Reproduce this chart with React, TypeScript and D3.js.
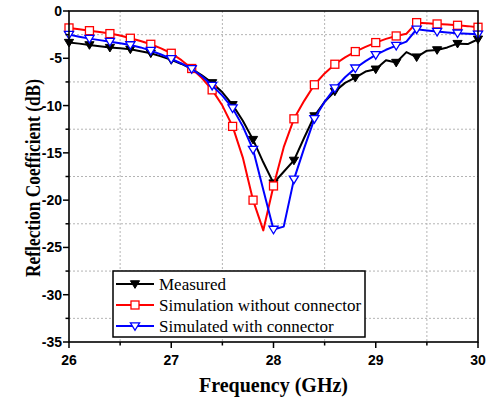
import React from "react";
import * as d3 from "d3";

// frequency samples (GHz)
const freqs = [
  26.0, 26.1, 26.2, 26.3, 26.4, 26.5, 26.6, 26.7, 26.8, 26.9,
  27.0, 27.1, 27.2, 27.3, 27.4, 27.5, 27.6, 27.7, 27.8, 27.9,
  28.0, 28.1, 28.2, 28.3, 28.4, 28.5, 28.6, 28.7, 28.8, 28.9,
  29.0, 29.1, 29.2, 29.3, 29.4, 29.5, 29.6, 29.7, 29.8, 29.9,
  30.0,
];

const measured = [
  -3.34, -3.45, -3.59, -3.72, -3.87, -3.95, -4.05, -4.25, -4.47, -4.8,
  -5.17, -5.6, -6.12, -6.8, -7.6, -8.6, -9.92, -11.6, -13.6, -16.0,
  -18.2, -17.0, -15.8, -13.4, -11.1, -9.6, -8.5, -7.6, -7.05, -6.4,
  -6.16, -5.2, -5.45, -4.35, -4.88, -4.2, -4.12, -3.85, -3.45, -3.5,
  -2.99,
];

const simNoConnector = [
  -1.79, -1.93, -2.08, -2.23, -2.39, -2.6, -2.88, -3.18, -3.52, -3.95,
  -4.47, -5.2, -6.08, -7.1, -8.34, -10.0, -12.2, -15.5, -20.0, -23.2,
  -18.5, -14.4, -11.4, -9.5, -7.8, -6.6, -5.63, -4.9, -4.29, -3.8,
  -3.34, -2.95, -2.64, -2.4, -1.23, -1.3, -1.37, -1.44, -1.51, -1.6,
  -1.72,
];

const simWithConnector = [
  -2.5, -2.72, -2.92, -3.08, -3.24, -3.4, -3.59, -3.85, -4.19, -4.6,
  -5.06, -5.55, -6.12, -6.9, -7.88, -8.95, -10.27, -12.2, -14.65, -18.9,
  -23.1, -22.8, -17.8, -14.5, -11.4, -9.6, -8.16, -7.0, -6.05, -5.3,
  -4.64, -4.1, -3.66, -3.24, -1.93, -2.05, -2.18, -2.27, -2.35, -2.4,
  -2.46,
];

const xTicks = [26, 27, 28, 29, 30];
const xMinor = [26.5, 27.5, 28.5, 29.5];
const yTicks = [0, -5, -10, -15, -20, -25, -30, -35];
const yMinor = [-2.5, -7.5, -12.5, -17.5, -22.5, -27.5, -32.5];

const seriesNames = ["Measured", "Simulation without connector", "Simulated with connector"];

const W = 494;
const H = 401;
const left = 69;
const right = 478;
const top = 11;
const bottom = 342;

const serif = "'Liberation Serif', 'Times New Roman', serif";
const sans = "'Liberation Sans', Arial, sans-serif";

const Marker = ({ kind, x, y }: { kind: string; x: number; y: number }) => {
  if (kind === "square") {
    return (
      <rect x={x - 4} y={y - 4} width={8} height={8} fill="white" stroke="#ff0000" strokeWidth={1.3} />
    );
  }
  const s = 4.6;
  const pts = `${x - s},${y - s * 0.7} ${x + s},${y - s * 0.7} ${x},${y + s * 0.95}`;
  if (kind === "filled") return <polygon points={pts} fill="black" stroke="black" strokeWidth={1} />;
  return <polygon points={pts} fill="white" stroke="#0000ff" strokeWidth={1.3} />;
};

export default function App() {
  const x = d3.scaleLinear().domain([26, 30]).range([left, right]);
  const y = d3.scaleLinear().domain([-35, 0]).range([bottom, top]);

  const series = [
    { name: seriesNames[0], values: measured, color: "black", kind: "filled" },
    { name: seriesNames[1], values: simNoConnector, color: "#ff0000", kind: "square" },
    { name: seriesNames[2], values: simWithConnector, color: "#0000ff", kind: "open" },
  ];

  const line = d3
    .line<number>()
    .x((_, i) => x(freqs[i]))
    .y((d) => y(d));

  const legX = 113;
  const legY = 271;

  return (
    <svg width={W} height={H} style={{ position: "absolute", left: 0, top: 0, background: "white" }}>
      {/* grid */}
      {xMinor.map((t) => (
        <line key={"gx" + t} x1={x(t)} x2={x(t)} y1={top} y2={bottom} stroke="#b4b4b4" strokeWidth={1} strokeDasharray="2,2" />
      ))}
      {yMinor.map((t) => (
        <line key={"gy" + t} x1={left} x2={right} y1={y(t)} y2={y(t)} stroke="#b4b4b4" strokeWidth={1} strokeDasharray="2,2" />
      ))}

      {/* series */}
      {series.map((s) => (
        <g key={s.name}>
          <path d={line(s.values) || ""} fill="none" stroke={s.color} strokeWidth={2} strokeLinejoin="round" />
          {s.values.map((v, i) =>
            i % 2 === 0 ? <Marker key={i} kind={s.kind} x={x(freqs[i])} y={y(v)} /> : null
          )}
        </g>
      ))}

      {/* frame */}
      <rect x={left} y={top} width={right - left} height={bottom - top} fill="none" stroke="black" strokeWidth={1.6} />

      {/* x ticks */}
      {xTicks.map((t) => (
        <g key={"xt" + t}>
          <line x1={x(t)} x2={x(t)} y1={bottom} y2={bottom + 6} stroke="black" strokeWidth={1.5} />
          <text x={x(t)} y={bottom + 23} textAnchor="middle" fontFamily={sans} fontWeight="bold" fontSize={14}>
            {t}
          </text>
        </g>
      ))}
      {xMinor.map((t) => (
        <line key={"xm" + t} x1={x(t)} x2={x(t)} y1={bottom} y2={bottom + 3.5} stroke="black" strokeWidth={1.5} />
      ))}

      {/* y ticks */}
      {yTicks.map((t) => (
        <g key={"yt" + t}>
          <line x1={left - 6} x2={left} y1={y(t)} y2={y(t)} stroke="black" strokeWidth={1.5} />
          <text x={left - 7} y={y(t) + 5} textAnchor="end" fontFamily={sans} fontWeight="bold" fontSize={14}>
            {t}
          </text>
        </g>
      ))}
      {yMinor.map((t) => (
        <line key={"ym" + t} x1={left - 3.5} x2={left} y1={y(t)} y2={y(t)} stroke="black" strokeWidth={1.5} />
      ))}

      {/* axis titles */}
      <text x={(left + right) / 2} y={392} textAnchor="middle" fontFamily={serif} fontWeight="bold" fontSize={20}>
        Frequency (GHz)
      </text>
      <text
        transform="translate(39.5,178) rotate(-90) scale(0.87,1)"
        textAnchor="middle"
        fontFamily={serif}
        fontWeight="bold"
        fontSize={20}
      >
        Reflection Coefficient (dB)
      </text>

      {/* legend */}
      <rect x={legX} y={legY} width={252} height={66} fill="white" stroke="black" strokeWidth={1.5} />
      {series.map((s, i) => {
        const cy = legY + 13 + i * 21;
        return (
          <g key={"lg" + s.name}>
            <line x1={legX + 3} x2={legX + 41} y1={cy} y2={cy} stroke={s.color} strokeWidth={2} />
            <Marker kind={s.kind} x={legX + 22} y={cy} />
            <text x={legX + 46} y={cy + 6} fontFamily={serif} fontSize={17}>
              {s.name}
            </text>
          </g>
        );
      })}
    </svg>
  );
}
